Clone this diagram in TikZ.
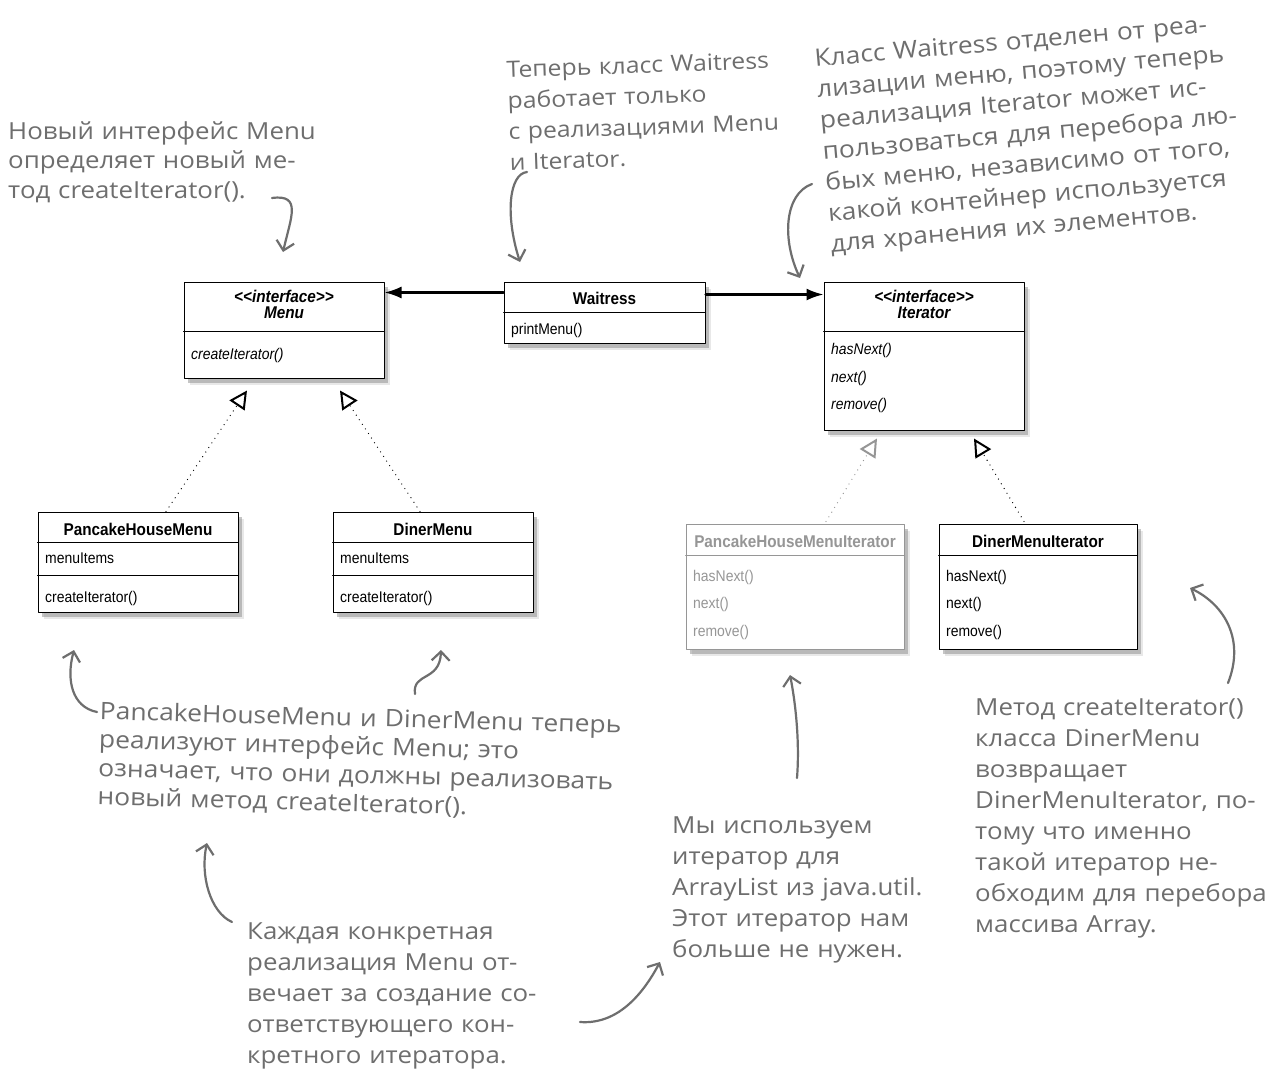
\documentclass[tikz,border=0pt]{standalone}
\usepackage{fontspec}
\usepackage{xcolor}
\usepackage{tikz}
\usetikzlibrary{arrows.meta,shadows}

\newfontfamily\umlfont[FakeStretch=0.9]{Liberation Sans}
\newfontfamily\notefont[FakeStretch=1.1]{Open Sans}
\definecolor{notegray}{RGB}{110,110,110}
\definecolor{ghostgray}{RGB}{150,150,150}

\tikzset{
  umlbox/.style={draw=black, line width=1pt, fill=white, inner sep=0pt,
    drop shadow={shadow xshift=6pt, shadow yshift=-7pt, opacity=0.18},
    drop shadow={shadow xshift=3.5pt, shadow yshift=-4.5pt, opacity=0.45}},
  ghostbox/.style={umlbox, draw=ghostgray},
  umltitle/.style={font=\umlfont\fontsize{17}{20}\selectfont\bfseries, inner sep=0pt},
  umlmember/.style={font=\umlfont\fontsize{15.5}{18}\selectfont, anchor=west, inner sep=0pt},
  umlrule/.style={line width=1pt},
  assoc/.style={line width=2.2pt, -{Latex[length=17pt, width=12pt]}},
  realize/.style={line width=1.3pt, line cap=round, dash pattern=on 0pt off 5.5pt,
    -{Triangle[open, length=18pt, width=18pt, fill=white, line width=2pt]}},
  note/.style={font=\notefont\fontsize{23.5}{31}\selectfont, text=notegray, align=left,
    anchor=north west, inner sep=0pt},
  notearrow/.style={draw=notegray, line width=2.2pt, line cap=round, line join=round,
    -{Straight Barb[length=9pt, width=18pt]}},
}

\begin{document}
\begin{tikzpicture}[x=1pt, y=-1pt, line cap=round, line join=round]
  \useasboundingbox (0,0) rectangle (1280,1076);
  \fill[white] (0,0) rectangle (1280,1076);

  % Menu interface
  \node[umlbox, minimum width=200pt, minimum height=96pt] (menu) at (284,330) {};
  \node[umltitle] (menuStereo) at (284,296) {\itshape <{}<interface>{}>};
  \node[umltitle] (menuName) at (284,313) {\itshape Menu};
  \draw[umlrule] (menu.west |- 0,331) -- (menu.east |- 0,331);
  \node[umlmember] (menuCreate) at (191,355) {\itshape createIterator()};

  % Waitress
  \node[umlbox, minimum width=201pt, minimum height=61pt] (waitress) at (604.5,312.5) {};
  \node[umltitle] (waitressName) at (604.5,298) {Waitress};
  \draw[umlrule] (waitress.west |- 0,312) -- (waitress.east |- 0,312);
  \node[umlmember] (waitressPrint) at (511,330) {printMenu()};

  % Iterator interface
  \node[umlbox, minimum width=200pt, minimum height=148pt] (iter) at (924,356) {};
  \node[umltitle] (iterStereo) at (924,296) {\itshape <{}<interface>{}>};
  \node[umltitle] (iterName) at (924,313) {\itshape Iterator};
  \draw[umlrule] (iter.west |- 0,331) -- (iter.east |- 0,331);
  \node[umlmember] (iterHas) at (831,350) {\itshape hasNext()};
  \node[umlmember] (iterNext) at (831,378) {\itshape next()};
  \node[umlmember] (iterRemove) at (831,405) {\itshape remove()};

  % PancakeHouseMenu
  \node[umlbox, minimum width=200pt, minimum height=100pt] (pancake) at (138,562) {};
  \node[umltitle] (pancakeName) at (138,529) {PancakeHouseMenu};
  \draw[umlrule] (pancake.west |- 0,542) -- (pancake.east |- 0,542);
  \node[umlmember] (pancakeItems) at (45,558) {menuItems};
  \draw[umlrule] (pancake.west |- 0,575) -- (pancake.east |- 0,575);
  \node[umlmember] (pancakeCreate) at (45,598) {createIterator()};

  % DinerMenu
  \node[umlbox, minimum width=200pt, minimum height=100pt] (diner) at (433,562) {};
  \node[umltitle] (dinerName) at (433,529) {DinerMenu};
  \draw[umlrule] (diner.west |- 0,542) -- (diner.east |- 0,542);
  \node[umlmember] (dinerItems) at (340,558) {menuItems};
  \draw[umlrule] (diner.west |- 0,575) -- (diner.east |- 0,575);
  \node[umlmember] (dinerCreate) at (340,598) {createIterator()};

  % PancakeHouseMenuIterator (greyed out)
  \node[ghostbox, minimum width=218pt, minimum height=125pt] (pancakeIter) at (795,586.5) {};
  \node[umltitle, text=ghostgray] (pancakeIterName) at (795,541) {PancakeHouseMenuIterator};
  \draw[umlrule, draw=ghostgray] (pancakeIter.west |- 0,555) -- (pancakeIter.east |- 0,555);
  \node[umlmember, text=ghostgray] (pancakeIterHas) at (693,577) {hasNext()};
  \node[umlmember, text=ghostgray] (pancakeIterNext) at (693,604) {next()};
  \node[umlmember, text=ghostgray] (pancakeIterRemove) at (693,632) {remove()};

  % DinerMenuIterator
  \node[umlbox, minimum width=198pt, minimum height=125pt] (dinerIter) at (1038,586.5) {};
  \node[umltitle] (dinerIterName) at (1038,541) {DinerMenuIterator};
  \draw[umlrule] (dinerIter.west |- 0,555) -- (dinerIter.east |- 0,555);
  \node[umlmember] (dinerIterHas) at (946,577) {hasNext()};
  \node[umlmember] (dinerIterNext) at (946,604) {next()};
  \node[umlmember] (dinerIterRemove) at (946,632) {remove()};

  % associations and realizations
  \draw[assoc] ([yshift=-11pt]waitress.north west) -- ([yshift=-11pt]menu.north east);
  \draw[assoc] ([yshift=-13pt]waitress.north east) -- ([yshift=-13pt]iter.north west);
  \draw[realize] ([xshift=28pt]pancake.north) -- ([xshift=-37pt, yshift=-12pt]menu.south);
  \draw[realize] ([xshift=-13pt]diner.north) -- ([xshift=56pt, yshift=-12pt]menu.south);
  \draw[realize, draw=ghostgray] ([xshift=31pt, yshift=2pt]pancakeIter.north) -- ([xshift=-47pt, yshift=-8pt]iter.south);
  \draw[realize] ([xshift=-14pt, yshift=2pt]dinerIter.north) -- ([xshift=50pt, yshift=-8pt]iter.south);

  % handwritten notes
  \node[note, font=\notefont\fontsize{23.5}{29.5}\selectfont, text width=330pt] (noteMenu) at (8,121)
    {Новый интерфейс Menu\\определяет новый ме-\\тод createIterator().};
  \node[note, rotate=2, text width=320pt, font=\notefont\fontsize{22.5}{31}\selectfont] (noteWaitress) at (506,61)
    {Теперь класс Waitress\\работает только\\с реализациями Menu\\и Iterator.};
  \node[note, anchor=center, rotate=5, text width=450pt, font=\notefont\fontsize{24}{31}\selectfont] (noteDecouple) at (1047,134)
    {Класс Waitress отделен от реа-\\лизации меню, поэтому теперь\\реализация Iterator может ис-\\пользоваться для перебора лю-\\бых меню, независимо от того,\\какой контейнер используется\\для хранения их элементов.};
  \node[note, rotate=-1.5, text width=600pt, font=\notefont\fontsize{24}{28.5}\selectfont] (noteImplement) at (100,701)
    {PancakeHouseMenu и DinerMenu теперь\\реализуют интерфейс Menu; это\\означает, что они должны реализовать\\новый метод createIterator().};
  \node[note, text width=330pt] (noteConcrete) at (247,923)
    {Каждая конкретная\\реализация Menu от-\\вечает за создание со-\\ответствующего кон-\\кретного итератора.};
  \node[note, text width=300pt] (noteArrayList) at (672,817)
    {Мы используем\\итератор для\\ArrayList из java.util.\\Этот итератор нам\\больше не нужен.};
  \node[note, text width=300pt] (noteDiner) at (975,699)
    {Метод createIterator()\\класса DinerMenu\\возвращает\\DinerMenuIterator, по-\\тому что именно\\такой итератор не-\\обходим для перебора\\массива Array.};

  % note arrows
  \coordinate (menuTail) at (272,198);   \coordinate (menuTip) at (283,252);
  \coordinate (waitTail) at (527,172);   \coordinate (waitTip) at (520,262);
  \coordinate (decTail) at (812,184);    \coordinate (decTip) at (800,278);
  \coordinate (implTailA) at (97,712);   \coordinate (implTipA) at (74,650);
  \coordinate (implTailB) at (415,694);  \coordinate (implTipB) at (441,650);
  \coordinate (concTailA) at (232,922);  \coordinate (concTipA) at (207,843);
  \coordinate (concTailB) at (580,1022); \coordinate (concTipB) at (660,962);
  \coordinate (arrTail) at (797,778);    \coordinate (arrTip) at (790,675);
  \coordinate (dinTail) at (1228,683);   \coordinate (dinTip) at (1190,588);

  \draw[notearrow] (menuTail) .. controls +(30,-4) and +(8,-35) .. (menuTip);
  \draw[notearrow] (waitTail) .. controls +(-18,2) and +(-15,-47) .. (waitTip);
  \draw[notearrow] (decTail) .. controls +(-28,10) and +(-18,-38) .. (decTip);
  \draw[notearrow] (implTailA) .. controls +(-25,-5) and +(-8,30) .. (implTipA);
  \draw[notearrow] (implTailB) .. controls +(-3,-22) and +(-1,32) .. (implTipB);
  \draw[notearrow] (concTailA) .. controls +(-22,-10) and +(-7,32) .. (concTipA);
  \draw[notearrow] (concTailB) .. controls +(40,3) and +(-15,28) .. (concTipB);
  \draw[notearrow] (arrTail) .. controls +(3,-38) and +(5,25) .. (arrTip);
  \draw[notearrow] (dinTail) .. controls +(17,-43) and +(35,17) .. (dinTip);
\end{tikzpicture}
\end{document}
